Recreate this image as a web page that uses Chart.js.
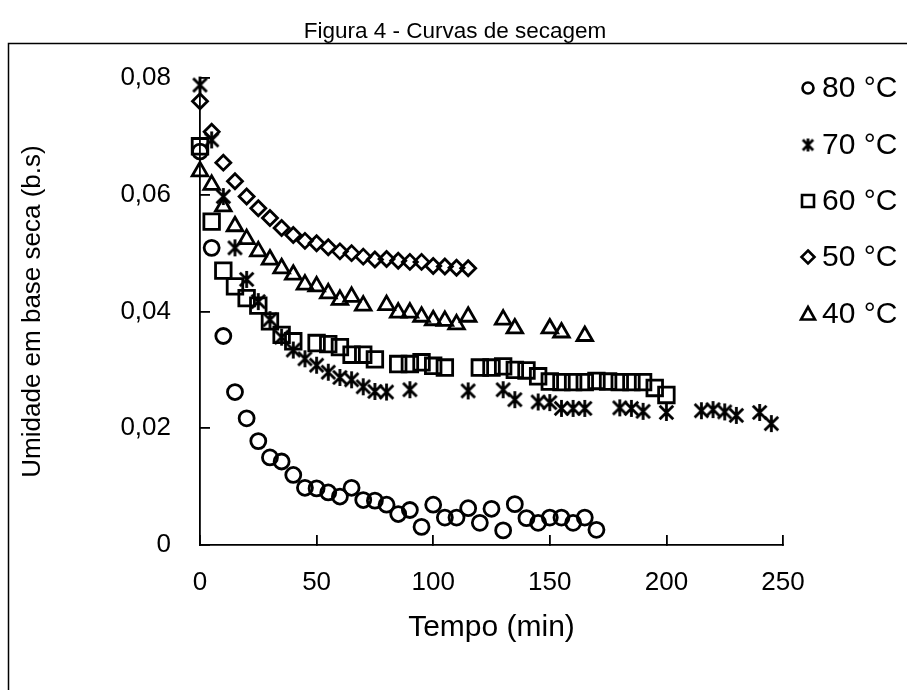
<!DOCTYPE html>
<html>
<head>
<meta charset="utf-8">
<script src="https://cdn.jsdelivr.net/npm/chart.js@4.4.0/dist/chart.umd.min.js"></script>
<style>
  html, body { margin: 0; padding: 0; background: #fff; }
</style>
</head>
<body>
<canvas id="chartSecagem" width="907" height="690"></canvas>
<script>
// dados (tempo em min, umidade em b.s)
const tempo80 = [0,5,10,15,20,25,30,35,40,45,50,55,60,65,70,75,80,85,90,95,100,105,110,115,120,125,130,135,140,145,150,155,160,165,170];
const umid80 = [0.0674,0.0509,0.0358,0.0262,0.0217,0.0178,0.0150,0.0143,0.0120,0.0098,0.0097,0.0090,0.0083,0.0098,0.0077,0.0076,0.0069,0.0053,0.0060,0.0031,0.0069,0.0047,0.0047,0.0063,0.0038,0.0062,0.0025,0.0070,0.0046,0.0038,0.0047,0.0047,0.0038,0.0047,0.0026];

const tempo70 = [0,5,10,15,20,25,30,35,40,45,50,55,60,65,70,75,80,90,115,130,135,145,150,155,160,165,180,185,190,200,215,220,225,230,240,245];
const umid70 = [0.0788,0.0694,0.0597,0.0509,0.0455,0.0417,0.0386,0.0356,0.0334,0.0319,0.0308,0.0296,0.0287,0.0283,0.0271,0.0263,0.0262,0.0266,0.0264,0.0266,0.0249,0.0245,0.0244,0.0234,0.0234,0.0234,0.0235,0.0234,0.0229,0.0227,0.0230,0.0232,0.0228,0.0222,0.0227,0.0208];

const tempo60 = [0,5,10,15,20,25,30,35,40,50,55,60,65,70,75,85,90,95,100,105,120,125,130,135,140,145,150,155,160,165,170,175,180,185,190,195,200];
const umid60 = [0.0683,0.0554,0.0470,0.0443,0.0423,0.0410,0.0383,0.0360,0.0349,0.0346,0.0344,0.0339,0.0326,0.0326,0.0318,0.0310,0.0310,0.0313,0.0307,0.0304,0.0304,0.0304,0.0306,0.0300,0.0299,0.0289,0.0280,0.0279,0.0279,0.0279,0.0281,0.0280,0.0279,0.0279,0.0279,0.0269,0.0257];

const tempo50 = [0,5,10,15,20,25,30,35,40,45,50,55,60,65,70,75,80,85,90,95,100,105,110,115];
const umid50 = [0.0760,0.0708,0.0655,0.0623,0.0597,0.0577,0.0560,0.0543,0.0531,0.0521,0.0517,0.0510,0.0503,0.0500,0.0494,0.0489,0.0490,0.0487,0.0485,0.0485,0.0478,0.0477,0.0475,0.0474];

const tempo40 = [0,5,10,15,20,25,30,35,40,45,50,55,60,65,70,80,85,90,95,100,105,110,115,130,135,150,155,165];
const umid40 = [0.0640,0.0617,0.0580,0.0546,0.0524,0.0503,0.0489,0.0474,0.0463,0.0446,0.0443,0.0431,0.0420,0.0425,0.0410,0.0411,0.0398,0.0398,0.0391,0.0385,0.0384,0.0378,0.0391,0.0386,0.0371,0.0371,0.0364,0.0358];

const series = ['80 °C', '70 °C', '60 °C', '50 °C', '40 °C'];
const xTicks = [0, 50, 100, 150, 200, 250];
const yTicks = [0, 0.02, 0.04, 0.06, 0.08];
const titulo = 'Figura 4 - Curvas de secagem';

const FONT = "'Liberation Sans', Arial, sans-serif";

function pontos(xs, ys) {
  return xs.map((x, i) => ({ x: x, y: ys[i] }));
}

// asterisco (X + barra vertical) como no Excel
function asterisco(size, lw) {
  const c = document.createElement('canvas');
  c.width = size; c.height = size;
  const g = c.getContext('2d');
  const m = size / 2, a = size / 2 - 1;
  g.strokeStyle = '#000';
  g.lineWidth = lw;
  g.beginPath();
  g.moveTo(m, m - a); g.lineTo(m, m + a);
  g.moveTo(m - a * 0.8, m - a * 0.8); g.lineTo(m + a * 0.8, m + a * 0.8);
  g.moveTo(m - a * 0.8, m + a * 0.8); g.lineTo(m + a * 0.8, m - a * 0.8);
  g.stroke();
  return c;
}

const star = asterisco(19, 2.8);
const starLegenda = asterisco(15, 2.7);

function ds(label, xs, ys, style, r) {
  return {
    label: label,
    data: pontos(xs, ys),
    pointStyle: style,
    pointRadius: r,
    pointBorderWidth: 2.8,
    pointBorderColor: '#000',
    pointBackgroundColor: 'rgba(0,0,0,0)',
    showLine: false,
    clip: false
  };
}

// título, moldura e legenda desenhados à mão
const extras = {
  id: 'extras',
  afterDraw(chart) {
    const ctx = chart.ctx;
    ctx.save();
    ctx.fillStyle = '#000';
    ctx.font = '22.5px ' + FONT;
    ctx.textAlign = 'center';
    ctx.textBaseline = 'middle';
    ctx.fillText(titulo, 455, 32);

    ctx.strokeStyle = '#000';
    ctx.lineWidth = 1.5;
    ctx.beginPath();
    ctx.moveTo(8.5, 690);
    ctx.lineTo(8.5, 43.5);
    ctx.lineTo(907, 43.5);
    ctx.stroke();

    const rows = [88, 145, 201, 257, 314];
    const mx = 808;
    ctx.lineWidth = 2.6;
    rows.forEach((y, i) => {
      ctx.beginPath();
      if (i === 0) {
        ctx.arc(mx, y, 5.5, 0, Math.PI * 2);
        ctx.stroke();
      } else if (i === 1) {
        ctx.drawImage(starLegenda, mx - 7.5, y - 7.5);
      } else if (i === 2) {
        ctx.rect(mx - 6, y - 6, 12, 12);
        ctx.stroke();
      } else if (i === 3) {
        ctx.moveTo(mx, y - 6.5); ctx.lineTo(mx + 6.5, y);
        ctx.lineTo(mx, y + 6.5); ctx.lineTo(mx - 6.5, y);
        ctx.closePath();
        ctx.stroke();
      } else {
        ctx.moveTo(mx, y - 7); ctx.lineTo(mx + 7, y + 5.5);
        ctx.lineTo(mx - 7, y + 5.5);
        ctx.closePath();
        ctx.stroke();
      }
      ctx.font = '30px ' + FONT;
      ctx.textAlign = 'left';
      ctx.textBaseline = 'middle';
      ctx.fillText(series[i], 822, y + 1);
    });
    ctx.restore();
  }
};

const chart = new Chart(document.getElementById('chartSecagem'), {
  type: 'scatter',
  data: {
    datasets: [
      ds(series[0], tempo80, umid80, 'circle', 7.5),
      ds(series[1], tempo70, umid70, star, 9),
      ds(series[2], tempo60, umid60, 'rect', 11),
      ds(series[3], tempo50, umid50, 'rectRot', 7.5),
      ds(series[4], tempo40, umid40, 'triangle', 9)
    ]
  },
  options: {
    responsive: false,
    animation: false,
    events: [],
    layout: { padding: { left: 0, right: 124, top: 78, bottom: 0 } },
    plugins: {
      legend: { display: false },
      tooltip: { enabled: false },
      title: { display: false }
    },
    scales: {
      x: {
        type: 'linear',
        min: 0, max: 250,
        afterBuildTicks: (s) => { s.ticks = xTicks.map(v => ({ value: v })); },
        afterFit: (s) => { s.height = 145; },
        border: { display: true, color: '#000', width: 1.8 },
        grid: { drawOnChartArea: false, drawTicks: true, tickLength: -10, color: '#000', lineWidth: 1.8 },
        ticks: { color: '#000', padding: 32, font: { family: FONT, size: 26 } },
        title: {
          display: true, text: 'Tempo (min)', color: '#000',
          font: { family: FONT, size: 30 }, padding: { top: 0, bottom: 44 }
        }
      },
      y: {
        type: 'linear',
        min: 0, max: 0.08,
        afterBuildTicks: (s) => { s.ticks = yTicks.map(v => ({ value: v })); },
        afterFit: (s) => { s.width = 200; },
        border: { display: true, color: '#000', width: 1.8 },
        grid: { drawOnChartArea: false, drawTicks: true, tickLength: -10, color: '#000', lineWidth: 1.8 },
        ticks: {
          color: '#000', padding: 39, font: { family: FONT, size: 26 },
          callback: (v) => v === 0 ? '0' : v.toFixed(2).replace('.', ',')
        },
        title: {
          display: true, text: 'Umidade em base seca (b.s)', color: '#000',
          font: { family: FONT, size: 26 }, padding: { top: 17, bottom: 0 }
        }
      }
    }
  },
  plugins: [extras]
});
</script>
</body>
</html>
